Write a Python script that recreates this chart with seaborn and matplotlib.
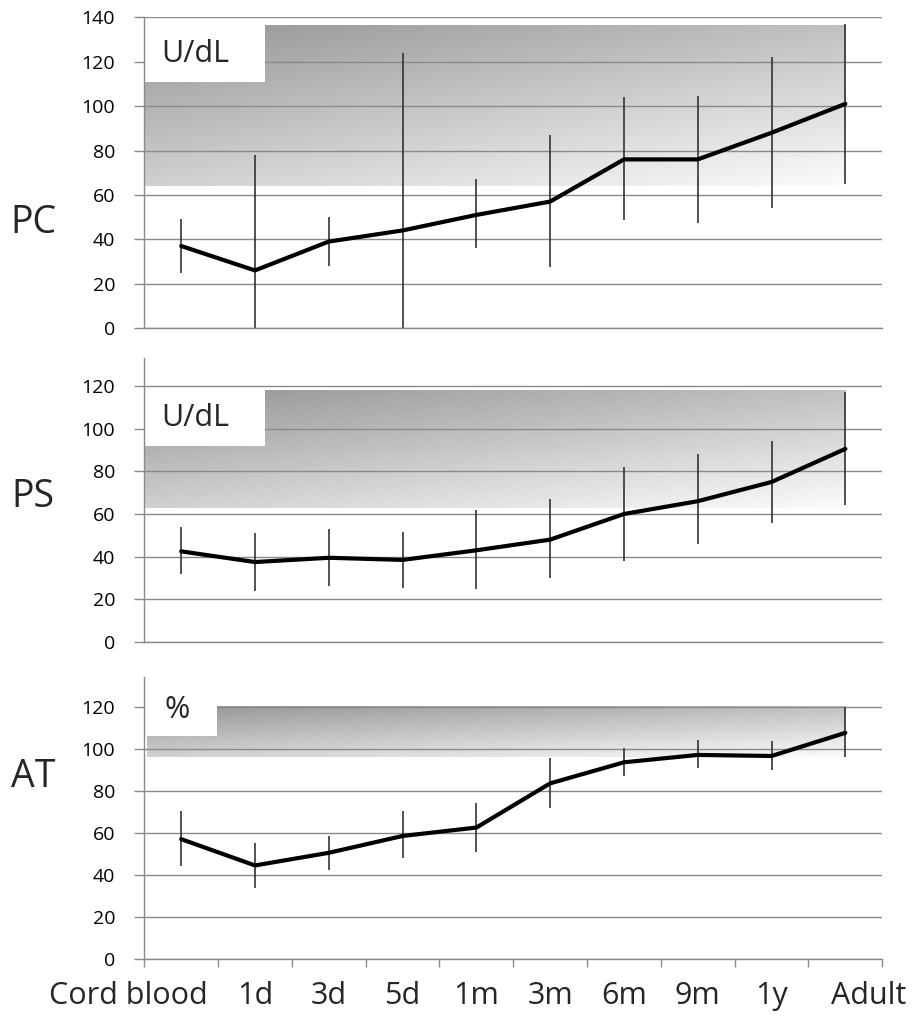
import matplotlib.pyplot as plt
import seaborn as sns
import numpy as np
import pandas as pd
from matplotlib.patches import Rectangle
from matplotlib.transforms import ScaledTranslation

# --- data ---
categories = ["Cord blood", "1d", "3d", "5d", "1m", "3m", "6m", "9m", "1y", "Adult"]

pc_mean = [37, 26, 39, 44, 51, 57, 76, 76, 88, 101]
pc_low = [25, 0, 28, 0, 36, 27.5, 48.5, 47.5, 54, 65]
pc_high = [49, 78, 50, 124, 67, 87, 104, 104.5, 122, 137]

ps_mean = [42.5, 37.5, 39.5, 38.5, 43, 48, 60, 66, 75, 90.5]
ps_low = [32, 24, 26.5, 25.5, 25, 30, 38, 46, 56, 64]
ps_high = [54, 51, 53, 51.5, 62, 67, 82, 88, 94, 117]

at_mean = [57, 44.5, 50.5, 58.5, 62.5, 83.5, 93.5, 97, 96.5, 107.5]
at_low = [44, 34, 42.5, 48, 51, 72, 87, 91, 90, 96]
at_high = [70.5, 55, 58.5, 70.5, 74, 95.5, 100.5, 104, 103.5, 120]

# adult reference range (shaded band) and unit label
pc_ref = (64, 136.5)
ps_ref = (63, 118)
at_ref = (96, 120)
units = ["U/dL", "U/dL", "%"]
names = ["PC", "PS", "AT"]

sns.set_theme(style="white")
plt.rcParams["font.family"] = ["Open Sans", "DejaVu Sans"]

fig = plt.figure(figsize=(9.19, 10.16), dpi=100)
positions = [
    [0.157, 0.677, 0.803, 0.306],
    [0.157, 0.368, 0.803, 0.2795],
    [0.157, 0.056, 0.803, 0.2776],
]
ylims = [140, 133, 134]
box_x = [1.14, 1.14, 0.49]
box_lo = [111, 92, 106]
band_x0 = [-0.5, -0.5, -0.46]
label_xy = [(-0.27, 123.5), (-0.27, 105), (-0.23, 118.5)]
row_y = [0.781, 0.511, 0.235]

series = [
    (pc_mean, pc_low, pc_high, pc_ref),
    (ps_mean, ps_low, ps_high, ps_ref),
    (at_mean, at_low, at_high, at_ref),
]

grey = "#8a8a8a"
for i, (mean, low, high, ref) in enumerate(series):
    ax = fig.add_axes(positions[i])
    df = pd.DataFrame({"stage": categories, "value": mean})
    xs = np.arange(len(categories))

    # gradient band: darker towards top-left
    yy = np.linspace(1, 0, 120)[:, None]
    xx = np.linspace(0, 1, 240)[None, :]
    g = 0.985 - 0.23 * yy - 0.17 * (1 - xx)
    ax.imshow(g, cmap="gray", vmin=0, vmax=1, aspect="auto",
              extent=(band_x0[i], 9.0, ref[0], ref[1]),
              interpolation="bilinear", zorder=0.2)
    ax.add_patch(Rectangle((-0.5, box_lo[i]), box_x[i] + 0.5, ref[1] - box_lo[i] + 1.2,
                           facecolor="white", edgecolor="none", zorder=0.8))
    ax.text(label_xy[i][0], label_xy[i][1], units[i], fontsize=22,
            ha="left", va="center", zorder=1)

    ax.vlines(xs, low, high, color="#333333", lw=1.2, zorder=2)
    sns.lineplot(data=df, x="stage", y="value", sort=False, color="black",
                 lw=3, ax=ax, zorder=3)

    ax.set_xlim(-0.5, 9.5)
    ax.set_ylim(0, ylims[i])
    ax.set_yticks(np.arange(0, ylims[i] + 1, 20))
    ax.set_axisbelow(True)
    ax.grid(axis="y", color=grey, lw=1)
    ax.set_xlabel("")
    ax.set_ylabel("")
    for s in ["top", "right"]:
        ax.spines[s].set_visible(False)
    for s in ["left", "bottom"]:
        ax.spines[s].set_color(grey)
        ax.spines[s].set_linewidth(1)
    ax.tick_params(axis="y", left=True, length=7, color=grey, width=1,
                   pad=14, labelsize=14, labelcolor="black")

    if i < 2:
        ax.set_xticks([])
    else:
        ax.set_xticks(xs)
        ax.set_xticklabels(categories)
        ax.set_xticks(np.arange(-0.5, 10, 1), minor=True)
        ax.tick_params(axis="x", which="major", length=0, pad=16, labelsize=22)
        ax.tick_params(axis="x", which="minor", bottom=True, length=6,
                       color=grey, width=1)
        labels = ax.get_xticklabels()
        labels[0].set_ha("right")
        labels[0].set_transform(labels[0].get_transform()
                                + ScaledTranslation(0.27, 0, fig.dpi_scale_trans))
        labels[-1].set_transform(labels[-1].get_transform()
                                 + ScaledTranslation(0.23, 0, fig.dpi_scale_trans))

    fig.text(0.036, row_y[i], names[i], fontsize=27, ha="center", va="center")

fig.savefig("out.png", dpi=100)
